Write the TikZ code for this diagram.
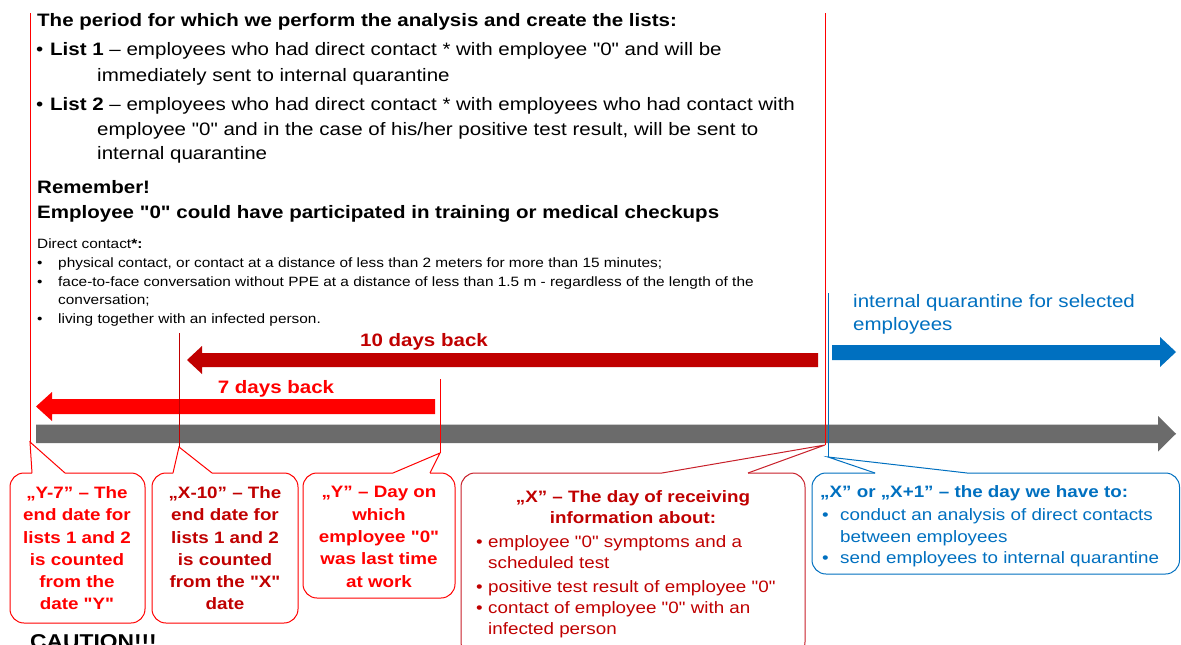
\documentclass[tikz,border=0pt]{standalone}
\usepackage{fontspec}
\setmainfont{Liberation Sans}[FakeStretch=1.14, Ligatures=TeXOff]
\definecolor{dred}{HTML}{C00000}
\definecolor{bred}{HTML}{FF0000}
\definecolor{xbord}{HTML}{C8202A}
\definecolor{qblue}{HTML}{0070C0}
\definecolor{tgray}{HTML}{6B6B6B}
\tikzset{
 lt/.style={inner sep=0pt, anchor=base west},
 ct/.style={inner sep=0pt, anchor=base},
 fbig/.style={font=\fontsize{18}{22}\selectfont},
 fbigb/.style={font=\fontsize{18}{22}\selectfont\bfseries},
 fsmall/.style={font=\fontsize{13.5}{16}\selectfont},
 fcal/.style={font=\fontsize{16.5}{20}\selectfont},
 fcalb/.style={font=\fontsize{16.5}{20}\selectfont\bfseries},
 vline/.style={line width=1pt},
 cbox/.style={line width=1pt, rounded corners=14pt},
 cptr/.style={line width=1pt, line join=miter},
}
\newcommand\mycallout[8]{%
 \draw[cbox,#1] (#7,#3) -- (#4,#3) -- (#4,#5) -- (#2,#5) -- (#2,#3) -- (#6,#3);
 \draw[cptr,#1] (#6,#3) -- (#8) -- (#7,#3);
}
\begin{document}
\begin{tikzpicture}[x=1pt,y=-1pt]
\useasboundingbox (0,0) rectangle (1181,645);
\fill[white] (0,0) rectangle (1181,645);
\clip (0,0) rectangle (1181,645);

% ---------- top text ----------
\node[lt,fbigb] (t1) at (37,27) {The period for which we perform the analysis and create the lists:};
\node[lt,fbig] (b1) at (36,55) {•};
\node[lt,fbig] (t2) at (50,55) {\textbf{List 1} – employees who had direct contact * with employee "0" and will be};
\node[lt,fbig] (t3) at (97,81) {immediately sent to internal quarantine};
\node[lt,fbig] (b2) at (36,110) {•};
\node[lt,fbig] (t4) at (50,110) {\textbf{List 2} – employees who had direct contact * with employees who had contact with};
\node[lt,fbig] (t5) at (97,135) {employee "0" and in the case of his/her positive test result, will be sent to};
\node[lt,fbig] (t6) at (97,159) {internal quarantine};
\node[lt,fbigb] (t7) at (37,193) {Remember!};
\node[lt,fbigb] (t8) at (37,218) {Employee "0" could have participated in training or medical checkups};
\node[lt,fsmall] (t9) at (37,248) {Direct contact\textbf{*:}};
\node[lt,fsmall] (sb1) at (37,267) {•};
\node[lt,fsmall] (s1) at (58,267) {physical contact, or contact at a distance of less than 2 meters for more than 15 minutes;};
\node[lt,fsmall] (sb2) at (37,286) {•};
\node[lt,fsmall] (s2) at (58,286) {face-to-face conversation without PPE at a distance of less than 1.5 m - regardless of the length of the};
\node[lt,fsmall] (s3) at (58,304) {conversation;};
\node[lt,fsmall] (sb4) at (37,323) {•};
\node[lt,fsmall] (s4) at (58,323) {living together with an infected person.};

% ---------- blue label ----------
\node[lt,fbig,text=qblue] (q1) at (853,307) {internal quarantine for selected};
\node[lt,fbig,text=qblue] (q2) at (853,330) {employees};

% ---------- arrows ----------
\fill[tgray] (36,424.5) -- (1158,424.5) -- (1158,416) -- (1176,433.75) -- (1158,451.5) -- (1158,443) -- (36,443) -- cycle;
\fill[dred] (818,353) -- (202,353) -- (202,346) -- (187,360) -- (202,374) -- (202,367) -- (818,367) -- cycle;
\fill[bred] (435,399) -- (52,399) -- (52,392) -- (36,406.5) -- (52,421) -- (52,414) -- (435,414) -- cycle;
\fill[qblue] (832,345) -- (1160,345) -- (1160,337) -- (1176,352) -- (1160,367) -- (1160,360) -- (832,360) -- cycle;
\node[ct,fbigb,text=dred] (l10) at (424,346) {10 days back};
\node[ct,fbigb,text=bred] (l7) at (276,393) {7 days back};

% ---------- pointer tips and line tops ----------
\coordinate (y7tip) at (30,442);
\coordinate (x10tip) at (179,447);
\coordinate (ytip) at (440,453);
\coordinate (xtip) at (825,445);
\coordinate (btip) at (828,457);
\coordinate (y7top) at (30,13);
\coordinate (x10top) at (179,333);
\coordinate (ytop) at (440,379);
\coordinate (xtop) at (825,13);
\coordinate (btop) at (828,293);
\draw[vline,bred] (y7top) -- (y7tip);
\draw[vline,dred] (x10top) -- (x10tip);
\draw[vline,bred] (ytop) -- (ytip);
\draw[vline,bred] (xtop) -- (xtip);
\draw[vline,qblue] (btop) -- (btip);

% ---------- callouts ----------
\mycallout{bred}{10}{473}{145}{623}{32}{65}{y7tip}
\mycallout{bred}{152}{473}{298}{623}{173}{212}{x10tip}
\mycallout{bred}{303}{473}{455}{598}{393}{430}{ytip}
\mycallout{xbord}{461}{473}{805}{656}{662}{748}{xtip}
\mycallout{qblue}{812}{473}{1179.5}{574}{875}{967}{btip}

% Y-7
\node[ct,fcalb,text=bred] (a1) at (77,498) {„Y-7” – The};
\node[ct,fcalb,text=bred] (a2) at (77,520) {end date for};
\node[ct,fcalb,text=bred] (a3) at (77,543) {lists 1 and 2};
\node[ct,fcalb,text=bred] (a4) at (77,565) {is counted};
\node[ct,fcalb,text=bred] (a5) at (77,587) {from the};
\node[ct,fcalb,text=bred] (a6) at (77,609) {date "Y"};
% X-10
\node[ct,fcalb,text=dred] (c1) at (225,498) {„X-10” – The};
\node[ct,fcalb,text=dred] (c2) at (225,520) {end date for};
\node[ct,fcalb,text=dred] (c3) at (225,543) {lists 1 and 2};
\node[ct,fcalb,text=dred] (c4) at (225,565) {is counted};
\node[ct,fcalb,text=dred] (c5) at (225,587) {from the "X"};
\node[ct,fcalb,text=dred] (c6) at (225,609) {date};
% Y
\node[ct,fcalb,text=bred] (d1) at (379,497) {„Y” – Day on};
\node[ct,fcalb,text=bred] (d2) at (379,520) {which};
\node[ct,fcalb,text=bred] (d3) at (379,542) {employee "0"};
\node[ct,fcalb,text=bred] (d4) at (379,564) {was last time};
\node[ct,fcalb,text=bred] (d5) at (379,587) {at work};
% X
\node[ct,fcalb,text=dred] (e1) at (633,502) {„X” – The day of receiving};
\node[ct,fcalb,text=dred] (e2) at (633,523) {information about:};
\node[lt,fcal,text=dred] (eb1) at (476,547) {•};
\node[lt,fcal,text=dred] (e3) at (488,547) {employee "0" symptoms and a};
\node[lt,fcal,text=dred] (e4) at (488,568) {scheduled test};
\node[lt,fcal,text=dred] (eb2) at (476,592) {•};
\node[lt,fcal,text=dred] (e5) at (488,592) {positive test result of employee "0"};
\node[lt,fcal,text=dred] (eb3) at (476,613) {•};
\node[lt,fcal,text=dred] (e6) at (488,613) {contact of employee "0" with an};
\node[lt,fcal,text=dred] (e7) at (488,634) {infected person};
% blue
\node[lt,fcalb,text=qblue] (f1) at (820,497) {„X” or „X+1” – the day we have to:};
\node[lt,fcal,text=qblue] (fb1) at (822,520) {•};
\node[lt,fcal,text=qblue] (f2) at (840,520) {conduct an analysis of direct contacts};
\node[lt,fcal,text=qblue] (f3) at (840,542) {between employees};
\node[lt,fcal,text=qblue] (fb2) at (822,563) {•};
\node[lt,fcal,text=qblue] (f4) at (840,563) {send employees to internal quarantine};

% CAUTION
\node[lt,font=\fontsize{20}{24}\selectfont\bfseries] (caution) at (30,648) {CAUTION!!!};
\end{tikzpicture}
\end{document}
